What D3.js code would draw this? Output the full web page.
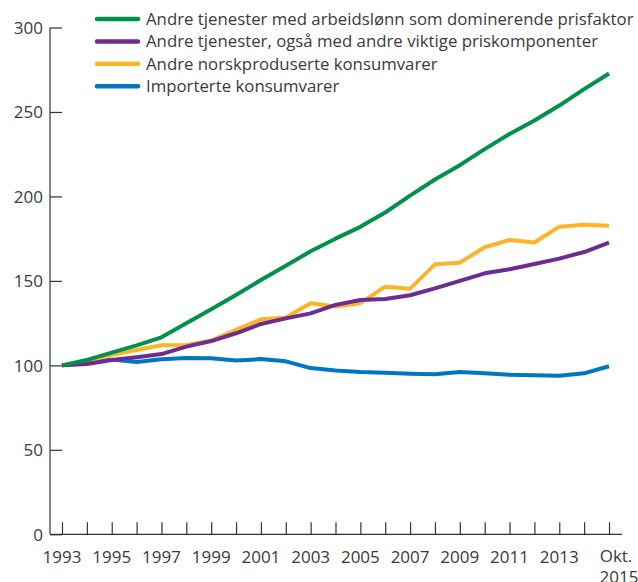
<!DOCTYPE html>
<html>
<head>
<meta charset="utf-8">
<script src="https://cdn.jsdelivr.net/npm/d3@7"></script>
<style>
  html, body { margin: 0; padding: 0; background: #fff; }
  svg { display: block; }
</style>
</head>
<body>
<div id="chart"></div>
<script>
const years = d3.range(1993, 2016);
const seriesNames = [
  "Andre tjenester med arbeidslønn som dominerende prisfaktor",
  "Andre tjenester, også med andre viktige priskomponenter",
  "Andre norskproduserte konsumvarer",
  "Importerte konsumvarer"
];
const seriesColors = ["#00924a", "#6c2c91", "#fdb42a", "#0077c1"];

const arbeidslonn = [100, 103.2, 107.5, 111.8, 116.6, 124.9, 133.2, 141.7, 150.5, 159, 167.5,
  175, 182, 190.5, 200.5, 210, 218.5, 228, 237, 245, 253.8, 263.5, 272.8];
const andreTjenester = [100, 100.8, 103.2, 104.8, 106.7, 111.1, 114.4, 119, 124.5, 127.8, 130.8,
  135.8, 138.7, 139.3, 141.5, 145.6, 150, 154.5, 156.9, 160, 163.2, 167.1, 172.7];
const norskprodusert = [100, 102.2, 106.2, 109.1, 111.9, 112.1, 114.6, 121, 127.3, 128.3, 136.8,
  134.8, 136.8, 146.6, 145.4, 159.8, 160.8, 169.9, 174.2, 172.7, 182.1, 183.3, 182.7];
const importert = [100, 101.5, 103.4, 102, 103.6, 104.4, 104.2, 102.9, 103.7, 102.4, 98.4,
  96.9, 96.1, 95.7, 95.1, 94.7, 96.1, 95.3, 94.5, 94.1, 93.9, 95.3, 99.5];
const seriesValues = [arbeidslonn, andreTjenester, norskprodusert, importert];

const yTicks = [0, 50, 100, 150, 200, 250, 300];
const xLabelYears = [1993, 1995, 1997, 1999, 2001, 2003, 2005, 2007, 2009, 2011, 2013];
const lastLabel = ["Okt.", "2015"];

const width = 638, height = 582;
const fontFamily = "'Open Sans', 'Noto Sans', sans-serif";
const fontSize = 16.8;
const textColor = "#3a3a3a";
const axisColor = "#333";

const svg = d3.select("#chart").append("svg")
  .attr("width", width).attr("height", height);

const xScale = d3.scaleLinear([1993, 2015], [62, 609]);
const yScale = d3.scaleLinear([0, 300], [534.3, 27.5]);

// y axis: ticks point inward
const yAxis = d3.axisRight(yScale).tickValues(yTicks).tickSizeInner(12).tickSizeOuter(0);
const gy = svg.append("g").attr("transform", "translate(50,0)").call(yAxis);
gy.select(".domain").attr("stroke", axisColor).attr("stroke-width", 1.2)
  .attr("d", `M0,${yScale(300)}V${yScale(0)}`);
gy.selectAll(".tick line").attr("stroke", axisColor).attr("stroke-width", 1.2);
gy.selectAll(".tick text")
  .attr("x", -7).attr("dy", "0.35em")
  .attr("text-anchor", "end")
  .attr("font-family", fontFamily).attr("font-size", 17).attr("fill", textColor);
gy.attr("font-family", null).attr("font-size", null);

// x axis: ticks every year, point up
const xAxis = d3.axisTop(xScale).tickValues(years).tickSizeInner(12).tickSizeOuter(0).tickFormat("");
const gx = svg.append("g").attr("transform", `translate(0,${yScale(0)})`).call(xAxis);
gx.select(".domain").attr("stroke", axisColor).attr("stroke-width", 1.2)
  .attr("d", "M50,0H622");
gx.selectAll(".tick line").attr("stroke", axisColor).attr("stroke-width", 1.2);

const xLabels = svg.append("g")
  .attr("font-family", fontFamily).attr("font-size", 17).attr("fill", textColor)
  .attr("text-anchor", "middle");
xLabels.selectAll("text.year").data(xLabelYears).join("text")
  .attr("class", "year")
  .attr("x", d => xScale(d))
  .attr("y", 562.5)
  .text(d => d);
xLabels.append("text")
  .attr("x", xScale(2015) + 7)
  .attr("y", 561.5)
  .text(lastLabel[0]);
xLabels.append("text")
  .attr("x", xScale(2015) + 10)
  .attr("y", 583)
  .text(lastLabel[1]);

// lines
const line = d3.line()
  .x((d, i) => xScale(years[i]))
  .y(d => yScale(d));

svg.append("g").selectAll("path")
  .data(seriesValues.slice().reverse())
  .join("path")
  .attr("fill", "none")
  .attr("stroke", (d, i) => seriesColors[seriesValues.length - 1 - i])
  .attr("stroke-width", 4)
  .attr("stroke-linejoin", "round")
  .attr("d", d => line(d));

// legend
const legend = svg.append("g");
const legendRows = legend.selectAll("g").data(seriesNames).join("g")
  .attr("transform", (d, i) => `translate(97,${19 + i * 22.4})`);
legendRows.append("line")
  .attr("x1", 0).attr("x2", 41)
  .attr("stroke", (d, i) => seriesColors[i])
  .attr("stroke-width", 4.5)
  .attr("stroke-linecap", "round");
legendRows.append("text")
  .attr("x", 49).attr("y", 6)
  .attr("font-family", fontFamily).attr("font-size", fontSize).attr("fill", textColor)
  .text(d => d);
</script>
</body>
</html>
